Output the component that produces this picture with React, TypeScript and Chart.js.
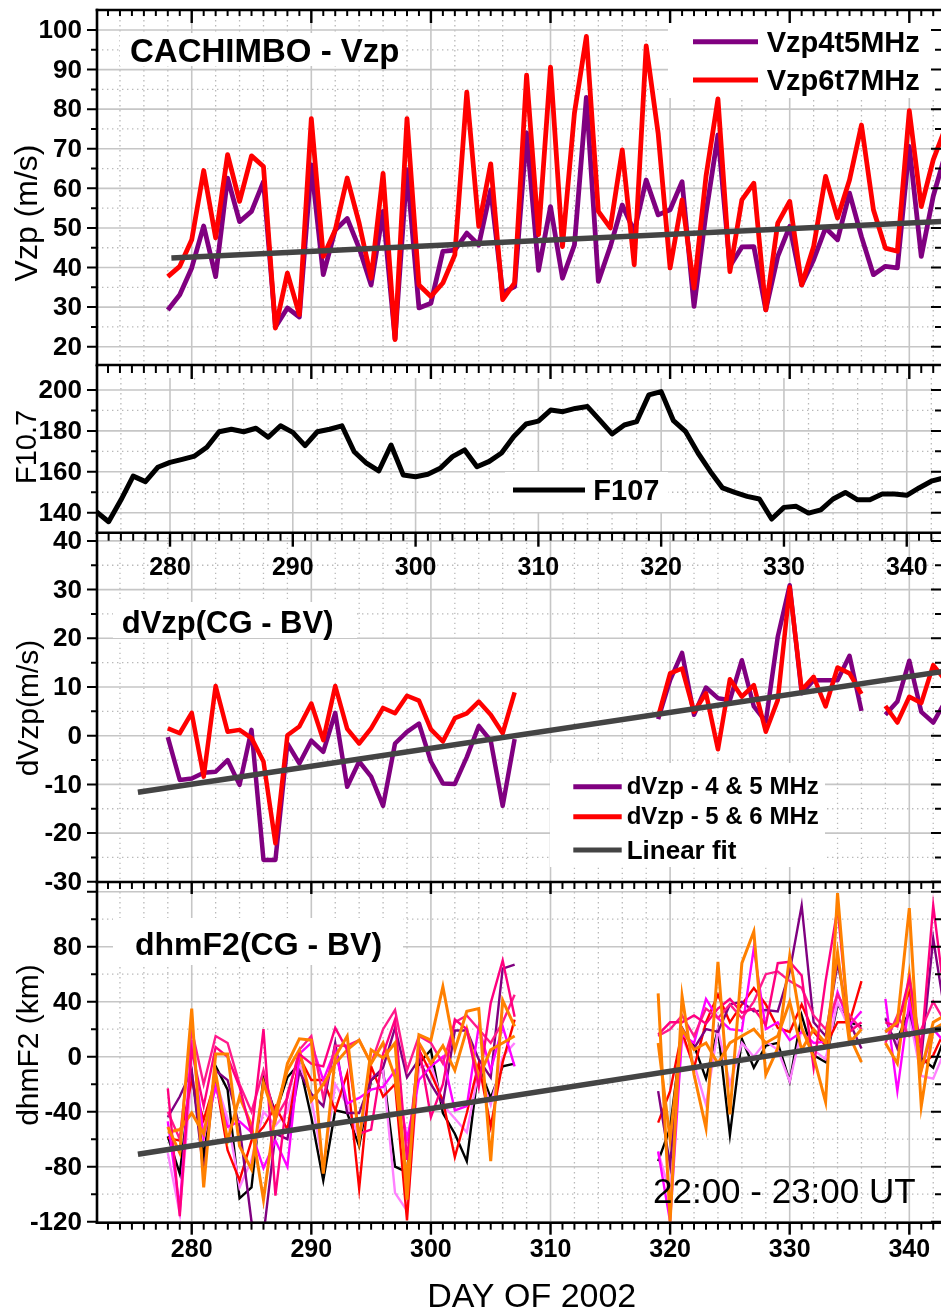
import React, { useEffect, useRef } from "react";
import { Chart, registerables } from "chart.js";

Chart.register(...registerables);

const FONT = '"Liberation Sans", Arial, Helvetica, sans-serif';

// ---------------- DATA ----------------
const DAYS = [
  278, 279, 280, 281, 282, 283, 284, 285, 286, 287, 288, 289, 290, 291, 292, 293, 294, 295, 296, 297,
  298, 299, 300, 301, 302, 303, 304, 305, 306, 307, 308, 309, 310, 311, 312, 313, 314, 315, 316, 317,
  318, 319, 320, 321, 322, 323, 324, 325, 326, 327, 328, 329, 330, 331, 332, 333, 334, 335, 336, 337,
  338, 339, 340, 341, 342, 343,
];

const F107_DAYS = [
  274, 275, 276, 277, 278, 279, 280, 281, 282, 283, 284, 285, 286, 287, 288, 289, 290, 291, 292, 293,
  294, 295, 296, 297, 298, 299, 300, 301, 302, 303, 304, 305, 306, 307, 308, 309, 310, 311, 312, 313,
  314, 315, 316, 317, 318, 319, 320, 321, 322, 323, 324, 325, 326, 327, 328, 329, 330, 331, 332, 333,
  334, 335, 336, 337, 338, 339, 340, 341, 342, 343,
];

const X_TICKS = [280, 290, 300, 310, 320, 330, 340];

// Panel 1: CACHIMBO Vzp
const VZP_4T5 = [
  29.3, 33.1, 39.9, 50.5, 37.7, 62.6, 51.6, 54.2, 61.7, 25.0, 29.8, 27.5, 65.9, 38.2, 49.5, 52.4, 44.9, 35.6, 54.2, 22.0,
  64.7, 29.8, 31.0, 44.1, 44.4, 48.7, 45.7, 59.6, 33.6, 35.2, 74.0, 39.3, 55.4, 37.3, 45.7, 83.0, 36.5, 45.3, 55.8, 49.1,
  62.1, 53.3, 54.6, 61.7, 30.2, 53.7, 73.5, 40.3, 45.2, 45.3, 29.3, 42.8, 50.4, 35.6, 42.0, 50.0, 47.0, 58.8, 47.8, 38.2,
  40.3, 39.9, 70.6, 42.8, 58.0, 68.5,
];
const VZP_6T7 = [
  37.7, 40.3, 47.0, 64.5, 47.5, 68.5, 56.7, 68.2, 65.5, 24.7, 38.6, 28.1, 77.6, 42.8, 49.5, 62.6, 51.2, 37.3, 63.8, 21.8,
  77.6, 35.6, 32.7, 36.1, 43.2, 84.3, 50.4, 66.2, 31.9, 36.1, 88.6, 48.3, 90.6, 45.3, 79.0, 98.4, 54.2, 50.0, 69.7, 40.7,
  96.0, 73.9, 39.9, 57.1, 34.8, 63.0, 82.6, 39.0, 57.1, 61.3, 29.3, 51.2, 56.7, 35.6, 45.3, 63.0, 52.5, 62.1, 76.0, 54.6,
  44.9, 44.1, 79.6, 55.4, 67.2, 75.1,
];
const VZP_FIT_DAYS = [278.3, 343];
const VZP_FIT = [42.4, 51.65];
const VZP_TICKS = [20, 30, 40, 50, 60, 70, 80, 90, 100];

// Panel 2: F10.7
const F107 = [
  140.5, 135.6, 146.2, 157.9, 155.2, 162.2, 164.6, 166.1, 167.7, 172.0, 179.6, 180.8, 179.6, 181.3, 176.9, 182.5, 179.3,
  172.8, 179.6, 180.8, 182.5, 169.8, 164.2, 160.4, 173.1, 158.4, 157.6, 158.8, 161.7, 167.4, 170.7, 162.5, 165.1, 169.2,
  177.3, 183.4, 184.8, 190.2, 189.4, 191.0, 191.9, 185.3, 178.5, 182.9, 184.5, 197.6, 199.2, 185.0, 179.6, 169.2, 160.2,
  152.1, 149.9, 148.0, 146.7, 136.9, 142.6, 143.1, 139.8, 141.4, 146.7, 149.9, 146.3, 146.3, 149.1, 149.1, 148.5, 152.1,
  155.4, 157.0,
];
const F107_TICKS = [140, 160, 180, 200];

// Panel 3: dVzp(CG - BV)
const DVZP_45 = [
  -0.3, -9.1, -8.8, -7.6, -7.4, -5.0, -10.1, 1.2, -25.5, -25.5, -1.6, -5.7, -1.0, -3.3, 4.7, -10.5, -5.3, -8.4, -14.4, -1.6,
  0.8, 2.5, -5.3, -9.8, -9.9, -4.4, 2.0, -1.0, -14.4, -0.7,
  null, null, null, null, null, null, null, null, null, null, null,
  3.4, 11.4, 17.0, 4.3, 9.9, 7.7, 7.3, 15.5, 6.0, 2.9, 20.3, 30.9, 8.7, 11.4, 11.4, 11.4, 16.4, 5.1,
  null,
  4.3, 7.0, 15.4, 4.9, 2.7, 7.0,
];
const DVZP_56 = [
  1.5, 0.5, 4.7, -8.4, 10.2, 0.8, 1.2, -0.5, -5.3, -22.1, 0.1, 1.9, 6.6, -0.9, 10.2, 1.4, -1.6, 1.5, 5.7, 4.6,
  8.2, 7.2, 1.3, -1.2, 3.6, 4.6, 7.0, 4.3, 0.5, 8.9,
  null, null, null, null, null, null, null, null, null, null, null,
  3.9, 12.8, 13.8, 4.9, 8.7, -2.8, 11.6, 8.0, 10.4, 0.8, 7.3, 30.5, 9.4, 12.1, 6.0, 14.0, 12.8, 8.6,
  null,
  6.1, 2.7, 8.0, 6.7, 14.5, 11.4,
];
const DVZP_FIT_DAYS = [275.5, 343];
const DVZP_FIT = [-11.6, 13.25];
const DVZP_TICKS = [-30, -20, -10, 0, 10, 20, 30, 40];

// Panel 4: dhmF2(CG - BV)
const HM_BLACK = [
  -58, -85, -12, -73, -7, -24, -103, -95, -15, -41, -15, -5, -44, -90, -39, -41, -65, -17, -10, -80,
  -84, -5, 5, -41, -56, -76, -7, -30, -7, -5,
  null, null, null, null, null, null, null, null, null, null, null,
  -76, -52, 18, 8, -16, 20, -57, 13, -8, 8, 10, -18, 30, 1, -4, 38, 25, 22,
  null,
  20, 13, 33, -1, -8, 15,
];
const HM_RED = [
  -59, -61, -17, -46, -17, -68, -90, -61, -51, -36, -53, 0, -17, -17, -39, -12, -96, -7, -29, -20,
  -119, 5, -12, -32, -73, -41, -5, -51, -4, 27,
  null, null, null, null, null, null, null, null, null, null, null,
  -48, -25, 18, -8, 25, 45, 25, 38, 50, 38, 21, 18, 38, 18, 8, 25, 25, 55,
  null,
  18, 25, 47, -6, 1, 20,
];
const HM_PURPLE = [
  -44, -29, -10, -85, -10, -17, -51, -120, -130, -56, -60, -11, -27, -36, 10, -41, -41, -17, -8, 21,
  -15, -2, -20, -34, 19, 19, -2, -15, 64, 67,
  null, null, null, null, null, null, null, null, null, null, null,
  -25, -79, 21, 6, 20, 18, 38, 40, 33, 34, 33, 62, 110, 25, 15, 68, 25, 6,
  null,
  28, 6, 33, -1, 86, 30,
];
const HM_MAGENTA = [
  -47, -110, 12, -58, -22, -51, -47, -55, -81, -61, -80, 2, 10, -17, 5, -34, -30, -24, -22, -10,
  -60, -17, -7, 0, -39, -36, 22, -10, 22, -7,
  null, null, null, null, null, null, null, null, null, null, null,
  -69, -120, 16, 10, 42, 28, 20, 19, 79, 20, 25, 12, 18, 10, 11, 47, 23, 33,
  null,
  42, -25, 40, -10, 20, 10,
];
const HM_VIOLET = [
  -70, -114, -12, -60, -17, -45, -95, -75, -40, -50, -40, -5, -30, -80, -20, -35, -60, -15, -10, -99,
  -112, -8, -5, -35, -45, -55, -10, -35, 0, 10,
  null, null, null, null, null, null, null, null, null, null, null,
  -69, -100, 14, -5, -35, 20, -20, 10, 0, 11, 5, -18, 20, 5, -2, 40, 20, 25,
  null,
  20, 10, 30, -14, -16, 5,
];
const HM_DEEPPINK = [
  -23, -116, 5, -36, 7, 0, -22, -56, 20, -101, -27, 2, -5, -7, 21, 5, -56, -53, 2, 27,
  -75, 7, -44, -20, 27, 20, -22, 39, 70, 29,
  null, null, null, null, null, null, null, null, null, null, null,
  16, 25, 25, 30, 24, 35, 42, 32, 35, 23, 68, 69, 59, -8, 55, 108, 18, 25,
  null,
  25, 22, 57, 6, 110, 40,
];
const HM_PINK2 = [
  -40, -60, 20, -20, 15, 10, -20, -40, -10, -45, -30, 5, 15, -30, 8, 8, 12, -5, 20, 34,
  -10, 15, 10, -5, 25, 30, 20, 10, 25, 45,
  null, null, null, null, null, null, null, null, null, null, null,
  15, 20, 30, 15, 35, 28, 38, 28, 40, 60, 62, 55, 50, 30, 20, 45, 30, 20,
  null,
  10, 30, 15, 20, 40, 25,
];
const HM_ORANGE1 = [
  -51, -70, 35, -95, 2, 2, -65, -82, -19, -46, -5, 13, 12, -85, 0, 15, -61, 5, -1, 10,
  -104, 16, 12, 51, 5, 33, 35, -76, 41, 22,
  null, null, null, null, null, null, null, null, null, null, null,
  46, -120, 44, -13, -52, 69, -42, 68, 91, -13, 6, 73, 21, 0, -33, 119, 15, -4,
  null,
  18, 25, 108, -36, 20, 25,
];
const HM_ORANGE2 = [
  -55, -53, -41, -56, -12, -61, -29, -50, -104, -40, -10, 5, -32, -20, -5, 5, 12, -5, 10, -15,
  -90, 10, -5, 8, -10, 20, -15, 5, 10, 15,
  null, null, null, null, null, null, null, null, null, null, null,
  10, -60, 20, 5, 10, -5, 10, 15, 20, 10, 15, 40, 5, 20, 10, 76, 10, 20,
  null,
  10, -5, 60, -10, 25, 30,
];
const HM_FIT_DAYS = [275.5, 343];
const HM_FIT = [-71, 20.6];
const HM_TICKS = [-120, -80, -40, 0, 40, 80];

// ---------------- HELPERS ----------------
function range(a: number, b: number, step: number): number[] {
  const out: number[] = [];
  for (let v = a; v <= b + 1e-9; v += step) out.push(Math.round(v * 1000) / 1000);
  return out;
}
function xy(xs: number[], ys: (number | null)[]) {
  return xs.map((x, i) => ({ x, y: ys[i] }));
}

type XAxisDeco = {
  edge: "top" | "bottom";
  line: boolean;
  major: number[];
  minor: number[];
  majLen: number;
  minLen: number;
  labels?: number[];
  labelOffset?: number;
};
type TextItem = {
  t: string;
  x: number;
  y: number;
  font: string;
  align?: CanvasTextAlign;
  baseline?: CanvasTextBaseline;
  rotate?: boolean;
};
type Deco = {
  top: number;
  xGridMajor: number[];
  xGridMinor: number[];
  yGridMajor: number[];
  yGridMinor: number[];
  yMajor: number[];
  yMinor: number[];
  yLabels: number[];
  leftExt: number;
  xAxes: XAxisDeco[];
  boxes: [number, number, number, number][];
  texts: TextItem[];
  legend: [number, number, number, string][];
};

function makeDeco(cfg: Deco) {
  return {
    id: "deco",
    beforeDatasetsDraw(chart: any) {
      const { ctx, chartArea: a, scales } = chart;
      const xs = scales.x;
      const ys = scales.y;
      ctx.save();
      ctx.beginPath();
      ctx.rect(a.left, a.top, a.right - a.left, a.bottom - a.top);
      ctx.clip();
      ctx.strokeStyle = "#b9b9b9";
      ctx.lineWidth = 1.3;
      ctx.setLineDash([1.4, 3.6]);
      for (const v of cfg.xGridMinor) {
        const x = xs.getPixelForValue(v);
        ctx.beginPath();
        ctx.moveTo(x, a.top);
        ctx.lineTo(x, a.bottom);
        ctx.stroke();
      }
      for (const v of cfg.yGridMinor) {
        const y = ys.getPixelForValue(v);
        ctx.beginPath();
        ctx.moveTo(a.left, y);
        ctx.lineTo(a.right, y);
        ctx.stroke();
      }
      ctx.setLineDash([]);
      ctx.strokeStyle = "#c6c6c6";
      ctx.lineWidth = 1.6;
      for (const v of cfg.xGridMajor) {
        const x = xs.getPixelForValue(v);
        ctx.beginPath();
        ctx.moveTo(x, a.top);
        ctx.lineTo(x, a.bottom);
        ctx.stroke();
      }
      for (const v of cfg.yGridMajor) {
        const y = ys.getPixelForValue(v);
        ctx.beginPath();
        ctx.moveTo(a.left, y);
        ctx.lineTo(a.right, y);
        ctx.stroke();
      }
      ctx.restore();
      ctx.save();
      ctx.fillStyle = "#ffffff";
      for (const [x, y, w, h] of cfg.boxes) ctx.fillRect(x, y - cfg.top, w, h);
      ctx.restore();
    },
    afterDatasetsDraw(chart: any) {
      const { ctx, chartArea: a, scales } = chart;
      const xs = scales.x;
      const ys = scales.y;
      ctx.save();
      ctx.strokeStyle = "#000";
      ctx.lineCap = "butt";
      ctx.lineWidth = 2.6;
      ctx.beginPath();
      ctx.moveTo(a.left, a.top - cfg.leftExt);
      ctx.lineTo(a.left, a.bottom + 1.3);
      ctx.stroke();
      ctx.lineWidth = 2;
      for (const v of cfg.yMajor) {
        const y = ys.getPixelForValue(v);
        ctx.beginPath();
        ctx.moveTo(a.left - 10, y);
        ctx.lineTo(a.left, y);
        ctx.moveTo(a.right - 10, y);
        ctx.lineTo(a.right, y);
        ctx.stroke();
      }
      for (const v of cfg.yMinor) {
        const y = ys.getPixelForValue(v);
        ctx.beginPath();
        ctx.moveTo(a.left - 6, y);
        ctx.lineTo(a.left, y);
        ctx.moveTo(a.right - 6, y);
        ctx.lineTo(a.right, y);
        ctx.stroke();
      }
      ctx.fillStyle = "#000";
      ctx.font = `bold 26px ${FONT}`;
      ctx.textAlign = "right";
      ctx.textBaseline = "middle";
      for (const v of cfg.yLabels) {
        ctx.fillText(String(v), a.left - 15, ys.getPixelForValue(v) + 1);
      }
      for (const ax of cfg.xAxes) {
        const y0 = ax.edge === "top" ? a.top : a.bottom;
        if (ax.line) {
          ctx.lineWidth = 2.6;
          ctx.beginPath();
          ctx.moveTo(a.left - 1.3, y0);
          ctx.lineTo(a.right, y0);
          ctx.stroke();
        }
        ctx.lineWidth = 2;
        for (const v of ax.minor) {
          const x = xs.getPixelForValue(v);
          ctx.beginPath();
          ctx.moveTo(x, y0);
          ctx.lineTo(x, y0 + ax.minLen);
          ctx.stroke();
        }
        ctx.lineWidth = 2.4;
        for (const v of ax.major) {
          const x = xs.getPixelForValue(v);
          ctx.beginPath();
          ctx.moveTo(x, y0);
          ctx.lineTo(x, y0 + ax.majLen);
          ctx.stroke();
        }
        if (ax.labels) {
          ctx.font = `bold 25px ${FONT}`;
          ctx.textAlign = "center";
          ctx.textBaseline = "middle";
          for (const v of ax.labels) {
            ctx.fillText(String(v), xs.getPixelForValue(v), y0 + (ax.labelOffset || 0));
          }
        }
      }
      ctx.lineWidth = 5;
      for (const [x1, x2, y, c] of cfg.legend) {
        ctx.strokeStyle = c;
        ctx.beginPath();
        ctx.moveTo(x1, y - cfg.top);
        ctx.lineTo(x2, y - cfg.top);
        ctx.stroke();
      }
      ctx.fillStyle = "#000";
      for (const t of cfg.texts) {
        ctx.save();
        ctx.font = t.font;
        ctx.textAlign = t.align || "left";
        ctx.textBaseline = t.baseline || "alphabetic";
        if (t.rotate) {
          ctx.translate(t.x, t.y - cfg.top);
          ctx.rotate(-Math.PI / 2);
          ctx.fillText(t.t, 0, 0);
        } else {
          ctx.fillText(t.t, t.x, t.y - cfg.top);
        }
        ctx.restore();
      }
      ctx.restore();
    },
  };
}

const XA_MIN = 272.08;
const XA_MAX = 342.65;
const XB_MIN = 274.054;
const XB_MAX = 342.79;

const CANVAS_W = 941;

function baseOptions(padTop: number, padBottom: number, xMin: number, xMax: number, yMin: number, yMax: number) {
  return {
    responsive: false,
    animation: false,
    devicePixelRatio: 1,
    events: [],
    layout: { padding: { left: 97, right: 0, top: padTop, bottom: padBottom } },
    elements: { point: { radius: 0 }, line: { tension: 0 } },
    scales: {
      x: { type: "linear", display: false, min: xMin, max: xMax },
      y: { type: "linear", display: false, min: yMin, max: yMax },
    },
    plugins: { legend: { display: false }, tooltip: { enabled: false } },
  };
}

const DAY_MINOR_A = range(273, 342, 1).filter((d) => d % 10 !== 0);
const DAY_GRID_MINOR_A = range(274, 342, 2).filter((d) => d % 10 !== 0);
const DAY_MINOR_B = range(275, 342, 1).filter((d) => d % 10 !== 0);
const DAY_GRID_MINOR_B = range(276, 342, 2).filter((d) => d % 10 !== 0);

const P1 = { top: 0, height: 392, areaTop: 10, areaBottom: 365 };
const P2 = { top: 360, height: 240, areaTop: 378, areaBottom: 532.7 };
const P3 = { top: 520, height: 380, areaTop: 532.7, areaBottom: 882 };
const P4 = { top: 870, height: 443, areaTop: 882, areaBottom: 1222.7 };

function panel1(): any {
  const deco = makeDeco({
    top: P1.top,
    xGridMajor: X_TICKS,
    xGridMinor: DAY_GRID_MINOR_A,
    yGridMajor: VZP_TICKS,
    yGridMinor: range(25, 95, 10),
    yMajor: VZP_TICKS,
    yMinor: range(25, 95, 10),
    yLabels: VZP_TICKS,
    leftExt: 1.3,
    xAxes: [
      { edge: "top", line: true, major: X_TICKS, minor: DAY_MINOR_A, majLen: 13, minLen: 6 },
      { edge: "bottom", line: true, major: X_TICKS, minor: DAY_MINOR_A, majLen: 14, minLen: 8 },
    ],
    boxes: [
      [120, 33, 282, 33],
      [668, 18, 273, 80],
    ],
    legend: [
      [693, 758, 41.7, "#800080"],
      [693, 758, 80, "#ff0000"],
    ],
    texts: [
      { t: "CACHIMBO - Vzp", x: 130, y: 62, font: `bold 33px ${FONT}` },
      { t: "Vzp4t5MHz", x: 766.7, y: 51.7, font: `bold 29px ${FONT}` },
      { t: "Vzp6t7MHz", x: 766.7, y: 90, font: `bold 29px ${FONT}` },
      { t: "Vzp (m/s)", x: 28, y: 213, font: `32px ${FONT}`, align: "center", baseline: "middle", rotate: true },
    ],
  });
  return {
    type: "line",
    data: {
      datasets: [
        { data: xy(VZP_FIT_DAYS, VZP_FIT), borderColor: "#444444", borderWidth: 5.5 },
        { data: xy(DAYS, VZP_6T7), borderColor: "#ff0000", borderWidth: 4.8, borderJoinStyle: "round" },
        { data: xy(DAYS, VZP_4T5), borderColor: "#800080", borderWidth: 4.8, borderJoinStyle: "round" },
      ],
    },
    options: baseOptions(P1.areaTop - P1.top, P1.top + P1.height - P1.areaBottom, XA_MIN, XA_MAX, 15.38, 105.05),
    plugins: [deco],
  };
}

function panel2(): any {
  const deco = makeDeco({
    top: P2.top,
    xGridMajor: X_TICKS,
    xGridMinor: DAY_GRID_MINOR_B,
    yGridMajor: F107_TICKS,
    yGridMinor: [150, 170, 190],
    yMajor: F107_TICKS,
    yMinor: [150, 170, 190],
    yLabels: F107_TICKS,
    leftExt: 13,
    xAxes: [
      { edge: "bottom", line: true, major: X_TICKS, minor: DAY_MINOR_B, majLen: 14, minLen: 8, labels: X_TICKS, labelOffset: 35 },
    ],
    boxes: [[505, 472, 163, 40]],
    legend: [[513, 585, 490, "#000000"]],
    texts: [
      { t: "F107", x: 593.3, y: 500, font: `bold 29px ${FONT}` },
      { t: "F10.7", x: 28, y: 447, font: `29px ${FONT}`, align: "center", baseline: "middle", rotate: true },
    ],
  });
  return {
    type: "line",
    data: {
      datasets: [{ data: xy(F107_DAYS, F107), borderColor: "#000000", borderWidth: 5, borderJoinStyle: "round" }],
    },
    options: baseOptions(P2.areaTop - P2.top, P2.top + P2.height - P2.areaBottom, XB_MIN, XB_MAX, 130.22, 205.87),
    plugins: [deco],
  };
}

function panel3(): any {
  const deco = makeDeco({
    top: P3.top,
    xGridMajor: X_TICKS,
    xGridMinor: DAY_GRID_MINOR_A,
    yGridMajor: DVZP_TICKS,
    yGridMinor: range(-25, 35, 10),
    yMajor: DVZP_TICKS,
    yMinor: range(-25, 35, 10),
    yLabels: DVZP_TICKS,
    leftExt: 0,
    xAxes: [],
    boxes: [
      [113, 602, 244, 36],
      [550, 763, 275, 104],
    ],
    legend: [
      [573.3, 621.7, 786.7, "#800080"],
      [573.3, 621.7, 816.7, "#ff0000"],
      [573.3, 621.7, 850, "#444444"],
    ],
    texts: [
      { t: "dVzp(CG - BV)", x: 121.7, y: 633.3, font: `bold 31px ${FONT}` },
      { t: "dVzp - 4 & 5 MHz", x: 626.7, y: 794, font: `bold 24px ${FONT}` },
      { t: "dVzp - 5 & 6 MHz", x: 626.7, y: 824, font: `bold 24px ${FONT}` },
      { t: "Linear fit", x: 626.7, y: 858.5, font: `bold 26px ${FONT}` },
      { t: "dVzp(m/s)", x: 30, y: 708, font: `30px ${FONT}`, align: "center", baseline: "middle", rotate: true },
    ],
  });
  return {
    type: "line",
    data: {
      datasets: [
        { data: xy(DVZP_FIT_DAYS, DVZP_FIT), borderColor: "#444444", borderWidth: 5.5 },
        { data: xy(DAYS, DVZP_56), borderColor: "#ff0000", borderWidth: 4.5, borderJoinStyle: "round" },
        { data: xy(DAYS, DVZP_45), borderColor: "#800080", borderWidth: 4.5, borderJoinStyle: "round" },
      ],
    },
    options: baseOptions(P3.areaTop - P3.top, P3.top + P3.height - P3.areaBottom, XA_MIN, XA_MAX, -30.04, 41.68),
    plugins: [deco],
  };
}

function panel4(): any {
  const deco = makeDeco({
    top: P4.top,
    xGridMajor: X_TICKS,
    xGridMinor: DAY_GRID_MINOR_A,
    yGridMajor: [-120, -80, -40, 0, 40, 80, 120],
    yGridMinor: range(-100, 100, 40),
    yMajor: [-120, -80, -40, 0, 40, 80, 120],
    yMinor: range(-100, 100, 40),
    yLabels: HM_TICKS,
    leftExt: 0,
    xAxes: [
      { edge: "top", line: true, major: X_TICKS, minor: DAY_MINOR_A, majLen: 12, minLen: 7 },
      { edge: "bottom", line: true, major: X_TICKS, minor: DAY_MINOR_A, majLen: 12, minLen: 7, labels: X_TICKS, labelOffset: 27 },
    ],
    boxes: [[113, 918, 290, 47]],
    legend: [],
    texts: [
      { t: "dhmF2(CG - BV)", x: 135, y: 955, font: `bold 32px ${FONT}` },
      { t: "22:00 - 23:00 UT", x: 653, y: 1203, font: `35px ${FONT}` },
      { t: "DAY OF 2002", x: 531.7, y: 1306.5, font: `34px ${FONT}`, align: "center" },
      { t: "dhmF2 (km)", x: 30, y: 1045, font: `30px ${FONT}`, align: "center", baseline: "middle", rotate: true },
    ],
  });
  const thin = 2.4;
  return {
    type: "line",
    data: {
      datasets: [
        { data: xy(HM_FIT_DAYS, HM_FIT), borderColor: "#444444", borderWidth: 5.5 },
        { data: xy(DAYS, HM_ORANGE1), borderColor: "#ff8000", borderWidth: 3 },
        { data: xy(DAYS, HM_DEEPPINK), borderColor: "#ff0080", borderWidth: thin },
        { data: xy(DAYS, HM_ORANGE2), borderColor: "#ff8000", borderWidth: 3 },
        { data: xy(DAYS, HM_PINK2), borderColor: "#ff1a8c", borderWidth: thin },
        { data: xy(DAYS, HM_MAGENTA), borderColor: "#ff00ff", borderWidth: thin },
        { data: xy(DAYS, HM_PURPLE), borderColor: "#800080", borderWidth: thin },
        { data: xy(DAYS, HM_RED), borderColor: "#ff0000", borderWidth: thin },
        { data: xy(DAYS, HM_VIOLET), borderColor: "#ff80ff", borderWidth: thin },
        { data: xy(DAYS, HM_BLACK), borderColor: "#000000", borderWidth: thin },
      ],
    },
    options: baseOptions(P4.areaTop - P4.top, P4.top + P4.height - P4.areaBottom, XA_MIN, XA_MAX, -120.73, 127.05),
    plugins: [deco],
  };
}

function Panel({ top, height, z, build }: { top: number; height: number; z: number; build: () => any }) {
  const ref = useRef<HTMLCanvasElement>(null);
  useEffect(() => {
    if (!ref.current) return;
    const chart = new Chart(ref.current, build());
    return () => chart.destroy();
  }, []);
  return (
    <canvas
      ref={ref}
      width={CANVAS_W}
      height={height}
      style={{ position: "absolute", left: 0, top, width: CANVAS_W, height, zIndex: z, display: "block" }}
    />
  );
}

export default function App() {
  return (
    <div
      style={{
        position: "absolute",
        left: 0,
        top: 0,
        width: 941,
        height: 1313,
        overflow: "hidden",
        background: "#ffffff",
      }}
    >
      <Panel top={P3.top} height={P3.height} z={1} build={panel3} />
      <Panel top={P4.top} height={P4.height} z={1} build={panel4} />
      <Panel top={P2.top} height={P2.height} z={2} build={panel2} />
      <Panel top={P1.top} height={P1.height} z={3} build={panel1} />
    </div>
  );
}
